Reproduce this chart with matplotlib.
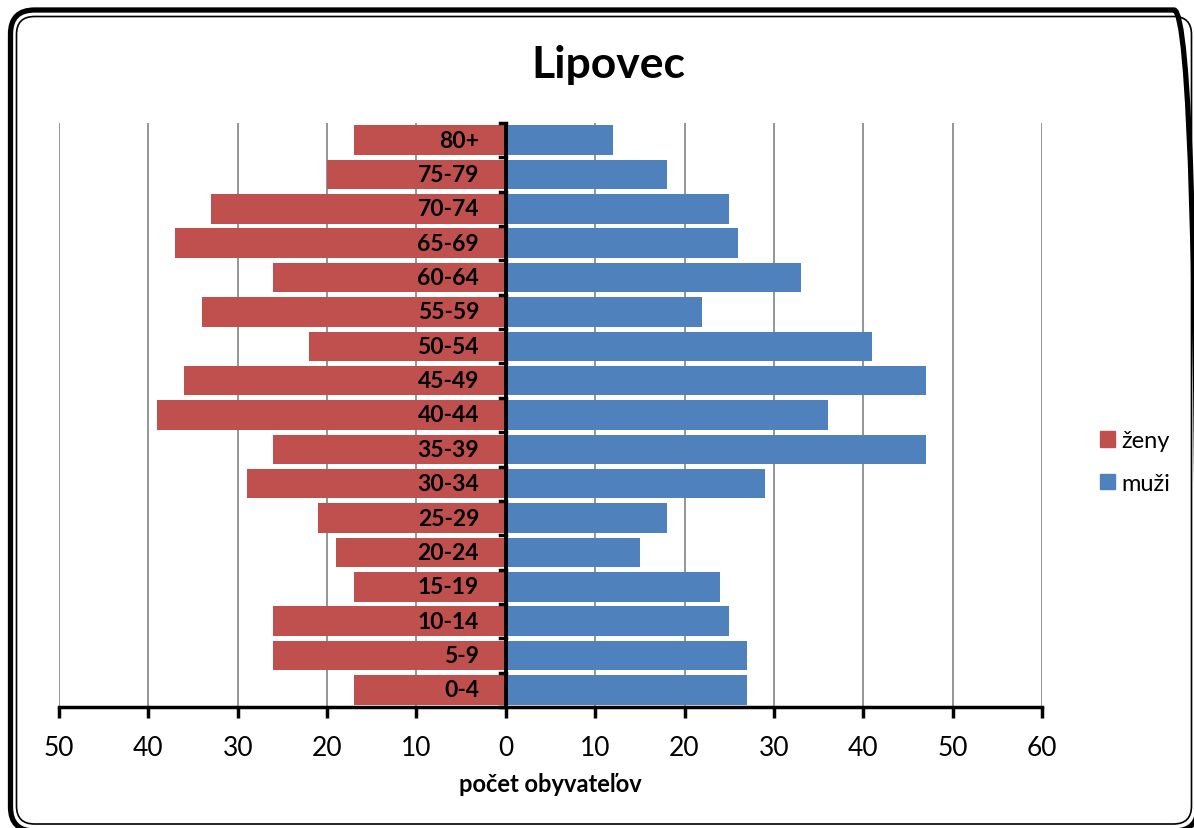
import matplotlib
matplotlib.use("Agg")
import matplotlib.pyplot as plt
from matplotlib.patches import FancyBboxPatch, Patch
from matplotlib.ticker import FuncFormatter, MultipleLocator
from matplotlib.transforms import IdentityTransform

categories = ["0-4", "5-9", "10-14", "15-19", "20-24", "25-29", "30-34", "35-39",
              "40-44", "45-49", "50-54", "55-59", "60-64", "65-69", "70-74", "75-79", "80+"]
zeny = [17, 26, 26, 17, 19, 21, 29, 26, 39, 36, 22, 34, 26, 37, 33, 20, 17]
muzi = [27, 27, 25, 24, 15, 18, 29, 47, 36, 47, 41, 22, 33, 26, 25, 18, 12]
title = "Lipovec"
xlabel = "počet obyvateľov"
legend_labels = ["ženy", "muži"]

RED = "#C0504D"
BLUE = "#4F81BD"
FONT = ["Lato", "DejaVu Sans"]
plt.rcParams["font.family"] = FONT

W, H = 1194, 829
fig = plt.figure(figsize=(W / 100, H / 100), dpi=100)

# rounded double frame (pixel coordinates, origin bottom-left)
def frame(x0, y0top, x1, y1bot, lw, r):
    p = FancyBboxPatch((x0, H - y1bot), x1 - x0, y1bot - y0top,
                       boxstyle=f"round,pad=0,rounding_size={r}",
                       transform=IdentityTransform(), fill=False, lw=lw, ec="black")
    fig.patches.append(p)

frame(10.5, 11, 1198, 832, 3.8, 24)
frame(16.5, 17.5, 1191.5, 825, 1.2, 18)

ax = fig.add_axes([59 / W, 1 - 708 / H, (1042 - 59) / W, (708 - 124) / H])
y = list(range(len(categories)))
ax.barh(y, [-v for v in zeny], height=0.86, color=RED, label=legend_labels[0], zorder=2)
ax.barh(y, muzi, height=0.86, color=BLUE, label=legend_labels[1], zorder=2)

ax.set_xlim(-50, 60)
ax.set_ylim(-0.5, len(categories) - 0.5)
ax.xaxis.set_major_locator(MultipleLocator(10))
ax.xaxis.set_major_formatter(FuncFormatter(lambda v, p: f"{abs(int(round(v)))}"))
ax.grid(axis="x", color="#8c8c8c", lw=1.3, zorder=0)
ax.set_axisbelow(True)

for s in ["top", "right", "left"]:
    ax.spines[s].set_visible(False)
ax.spines["bottom"].set_linewidth(2.5)
ax.axvline(0, color="black", lw=2.8, zorder=3)

ax.set_yticks([])
for yi, c in zip(y, categories):
    ax.text(-3.0, yi, c, ha="right", va="center", fontsize=16.5, fontweight="bold", zorder=4)
# small tick marks on the vertical axis (category boundaries)
for yb in [i + 0.5 for i in range(-1, len(categories))]:
    ax.plot([-0.6, 0], [yb, yb], color="black", lw=2.5, zorder=4, clip_on=False)

ax.tick_params(axis="x", length=8, width=2.5, labelsize=19, pad=12)
ax.set_xlabel(xlabel, fontsize=17, fontweight="bold", labelpad=9)

fig.suptitle(title, x=608 / W, y=1 - 65 / H, va="center", fontsize=32, fontweight="bold")

handles = [Patch(color=RED), Patch(color=BLUE)]
fig.legend(handles, legend_labels, loc="center left", bbox_to_anchor=(1100 / W, 1 - 463 / H),
           frameon=False, fontsize=17, handlelength=0.64, handleheight=0.64,
           handletextpad=0.25, labelspacing=0.9, borderpad=0, borderaxespad=0)

fig.savefig("out.png", dpi=100)
